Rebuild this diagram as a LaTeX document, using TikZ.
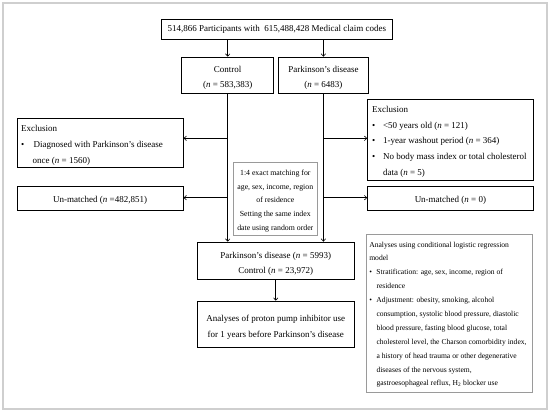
\documentclass[tikz,border=0pt]{standalone}
\usepackage{fontspec}
\setmainfont{Liberation Serif}
\usetikzlibrary{arrows.meta}
\newcommand{\txtbox}[7]{\parbox[c][#2][t]{#1}{#6\fontsize{#4}{#5}\selectfont\rule{0pt}{#3}#7}}
\newcommand{\bul}[1]{\makebox[#1][l]{\textbullet}}
\definecolor{framegray}{HTML}{CFCFCF}
\definecolor{boxgray}{HTML}{9A9A9A}
\tikzset{
  box/.style={draw=black, line width=0.8pt, inner ysep=0pt, inner xsep=0pt, anchor=north west},
  greybox/.style={box, draw=boxgray, line width=0.6pt},
  arr/.style={line width=0.7pt, -{Straight Barb[length=2.5pt,width=4.5pt,line width=0.6pt]}}
}
\begin{document}
\begin{tikzpicture}[x=1pt,y=-1pt]
\fill[white] (0,0) rectangle (550,412);
\useasboundingbox (0,0) rectangle (550,412);
\draw[framegray, line width=1.2pt] (3,3) rectangle (547,409);

\node[box] (top) at (160.7,19) {\txtbox{231.6pt}{20pt}{12.5pt}{9}{12}{\centering}{514,866 Participants with\ \ 615,488,428 Medical claim codes}};
\node[box] (control) at (181.3,56.7) {\txtbox{92pt}{36pt}{15pt}{9}{15.3}{\centering}{Control\\(\textit{n} = 583,383)}};
\node[box] (pd) at (278,56.7) {\txtbox{90pt}{36pt}{15pt}{9}{15.3}{\centering}{Parkinson’s disease\\(\textit{n} = 6483)}};
\node[box, inner xsep=4pt] (exclL) at (16.7,118.3) {\txtbox{158pt}{48.4pt}{12.4pt}{9}{16.3}{\raggedright}{Exclusion\\\bul{12.6pt}Diagnosed with Parkinson’s disease\\\hspace*{11.6pt}once (\textit{n} = 1560)}};
\node[box] (unmL) at (16.7,186) {\txtbox{166pt}{24pt}{15.7pt}{9}{12}{\centering}{Un-matched (\textit{n} =482,851)}};
\node[box, inner xsep=4.4pt] (exclR) at (367.3,99.3) {\txtbox{156.6pt}{80.7pt}{13pt}{9}{15.6}{\raggedright}{Exclusion\\\bul{11pt}<50 years old (\textit{n} = 121)\\\bul{11pt}1-year washout period (\textit{n} = 364)\\\bul{11pt}No body mass index or total cholesterol\\\hspace*{11pt}data (\textit{n} = 5)}};
\node[box] (unmR) at (367.3,186) {\txtbox{165.4pt}{24pt}{15.7pt}{9}{12}{\centering}{Un-matched (\textit{n} = 0)}};
\node[greybox] (match) at (233.3,162.3) {\txtbox{83.4pt}{72.7pt}{12.7pt}{7.8}{13.8}{\centering}{1:4 exact matching for\\age, sex, income, region\\of residence\\Setting the same index\\date using random order}};
\node[box] (pdc) at (196.7,241.7) {\txtbox{157.3pt}{37.6pt}{16pt}{9}{15.6}{\centering}{Parkinson’s disease (\textit{n} = 5993)\\Control (\textit{n} = 23,972)}};
\node[box] (ana) at (196.7,300.7) {\txtbox{157.3pt}{46.6pt}{20.3pt}{9}{15.7}{\centering}{Analyses of proton pump inhibitor use\\for 1 years before Parkinson’s disease}};
\node[greybox, inner xsep=3pt] (model) at (366,234.3) {\txtbox{160pt}{157.4pt}{12.4pt}{7.6}{13.9}{\raggedright}{Analyses using conditional logistic regression\\model\\\bul{7.2pt}Stratification: age, sex, income, region of\\\hspace*{7.2pt}residence\\\bul{7.2pt}Adjustment: obesity, smoking, alcohol\\\hspace*{7.2pt}consumption, systolic blood pressure, diastolic\\\hspace*{7.2pt}blood pressure, fasting blood glucose, total\\\hspace*{7.2pt}\mbox{cholesterol level, the Charson comorbidity index,}\\\hspace*{7.2pt}a history of head trauma or other degenerative\\\hspace*{7.2pt}diseases of the nervous system,\\\hspace*{7.2pt}gastroesophageal reflux, H\textsubscript{2} blocker use}};

\coordinate (y1) at (0,138.3);
\coordinate (y2) at (0,197.7);
\coordinate (jL1) at (control.south |- y1);
\coordinate (jR1) at (pd.south |- y1);
\coordinate (jL2) at (control.south |- y2);
\coordinate (jR2) at (pd.south |- y2);

\draw[arr] (top.south -| control.north) -- (control.north);
\draw[arr] (top.south -| pd.north) -- (pd.north);
\draw[arr] (control.south) -- (control.south |- pdc.north);
\draw[arr] (pd.south) -- (pd.south |- pdc.north);
\draw[arr] (jL1) -- (jL1 -| exclL.east);
\draw[arr] (jR1) -- (jR1 -| exclR.west);
\draw[arr] (jL2) -- (jL2 -| unmL.east);
\draw[arr] (jR2) -- (jR2 -| unmR.west);
\draw[arr] (pdc.south) -- (ana.north);
\end{tikzpicture}
\end{document}
